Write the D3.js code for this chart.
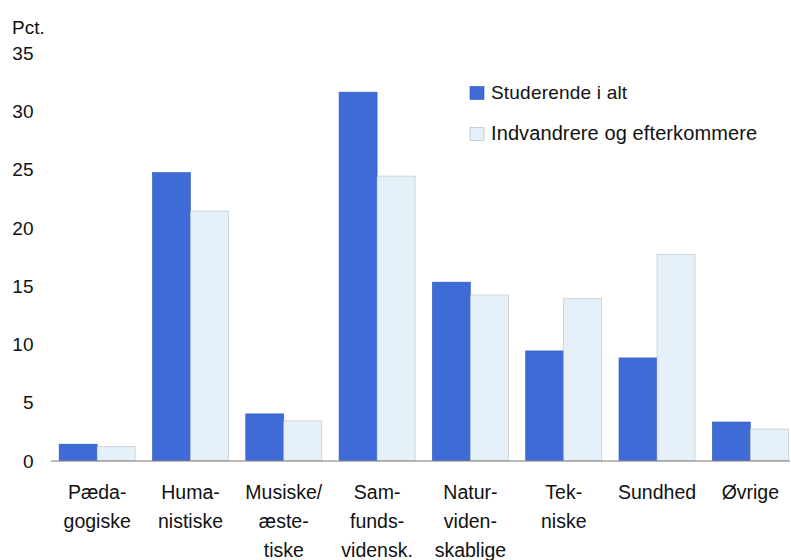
<!DOCTYPE html>
<html><head><meta charset="utf-8">
<script src="https://cdn.jsdelivr.net/npm/d3@7"></script>
<style>body{margin:0;background:#fff}svg{display:block}</style>
</head><body><svg id="c" width="791" height="560"></svg>
<script>
const categories = [["Pæda-","gogiske"],["Huma-","nistiske"],["Musiske/","æste-","tiske"],["Sam-","funds-","vidensk."],["Natur-","viden-","skablige"],["Tek-","niske"],["Sundhed"],["Øvrige"]];
const seriesNames = ["Studerende i alt","Indvandrere og efterkommere"];
const studerende = [1.4, 24.7, 4.0, 31.6, 15.3, 9.4, 8.8, 3.3];
const indvandrere = [1.2, 21.4, 3.4, 24.4, 14.2, 13.9, 17.7, 2.7];
const yTicks = [0,5,10,15,20,25,30,35];
const colors = ["#3e6bd8","#e5f0f8"];
const FONT = "'Liberation Sans',Arial,sans-serif";

const svg = d3.select("#c");
const keys = categories.map((c,i)=>"c"+i);
const x0 = d3.scaleBand().domain(keys).range([50.5,797]).padding(0);
const bw = 38;
const x1 = d3.scaleBand().domain([0,1]).range([x0.bandwidth()/2-bw, x0.bandwidth()/2+bw]).padding(0);
const y = d3.scaleLinear().domain([0,35]).range([460.5,52.5]);

// y tick labels
const yAxis = d3.axisLeft(y).tickValues(yTicks).tickSize(0).tickPadding(0);
const ga = svg.append("g").attr("transform","translate(33.5,0)").call(yAxis);
ga.attr("font-family", FONT).attr("font-size",19);
ga.select(".domain").remove();
ga.selectAll("text").attr("dy","0.35em").attr("fill","#111");
svg.append("text").attr("x",12).attr("y",34).style("font-family",FONT).style("font-size","19px").attr("fill","#111").text("Pct.");

// bars
const vals = [studerende, indvandrere];
const g = svg.append("g");
keys.forEach((k,i)=>{
  [0,1].forEach(s=>{
    g.append("rect")
      .attr("x", x0(k)+x1(s))
      .attr("y", y(vals[s][i]))
      .attr("width", x1.bandwidth())
      .attr("height", y(0)-y(vals[s][i]))
      .attr("fill", colors[s])
      .attr("stroke", s===0 ? "#2f56b8" : "#b8c2c8")
      .attr("stroke-width", 0.6);
  });
});

// baseline
svg.append("line").attr("x1",51).attr("x2",790).attr("y1",y(0)+0.5).attr("y2",y(0)+0.5).attr("stroke","#777").attr("stroke-width",1);

// category labels
keys.forEach((k,i)=>{
  const t = svg.append("text").attr("text-anchor","middle").style("font-family",FONT).style("font-size","19.5px").attr("fill","#111")
    .attr("transform",`translate(${x0(k)+x0.bandwidth()/2},0)`);
  categories[i].forEach((line,j)=>{
    t.append("tspan").attr("x",0).attr("y",499+j*29).text(line);
  });
});

// legend
const legendSize = [19, 20];
const legendSpacing = [0.2, 0.1];
const lg = svg.append("g");
seriesNames.forEach((n,i)=>{
  const base = 99 + i*41;
  lg.append("rect").attr("x",470).attr("y",base-12.5).attr("width",14).attr("height",13)
    .attr("fill",colors[i]).attr("stroke",i===0?"#2f56b8":"#aab4ba").attr("stroke-width",0.6);
  lg.append("text").attr("x",491).attr("y",base).style("font-family",FONT)
    .style("font-size",legendSize[i]+"px").style("letter-spacing",legendSpacing[i]+"px").attr("fill","#111").text(n);
});
</script></body></html>
